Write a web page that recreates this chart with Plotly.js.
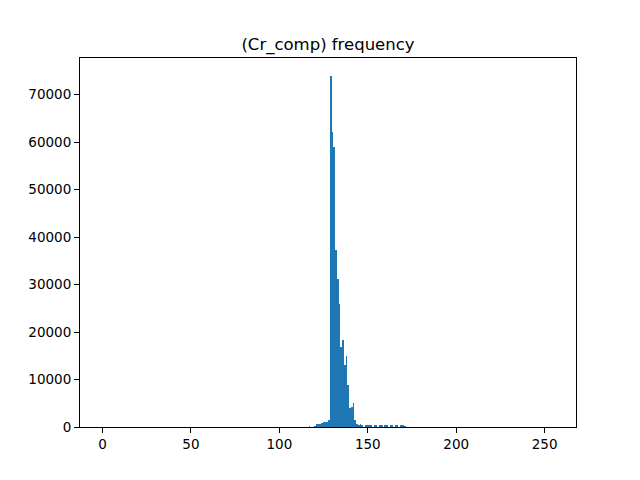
<!DOCTYPE html>
<html>
<head>
<meta charset="utf-8">
<script src="https://cdn.plot.ly/plotly-3.0.1.min.js"></script>
<style>html,body{margin:0;padding:0;background:#fff;}#chart{width:640px;height:480px;}</style>
</head>
<body>
<div id="chart"></div>
<script>
// Histogram of Cr component: 256 bins over [0, 255]
const binCount = 256;
const valueMin = 0;
const valueMax = 255;
const firstBin = 117;
const counts = [
  200, 0, 0, 150, 570, 700, 700, 840, 1120, 1120, 980, 1470,
  74000, 62200, 58900, 37200, 31100, 25900, 16900, 18300, 13000, 14900,
  8800, 4000, 4200, 5000, 1470, 630, 420, 630, 420, 0,
  400, 420, 400, 380, 0, 420, 400, 0, 380, 400, 0, 380, 420, 0,
  400, 420, 0, 380, 400, 0, 350, 380, 300, 0
];
const yTicks = [0, 10000, 20000, 30000, 40000, 50000, 60000, 70000];
const xTicks = [0, 50, 100, 150, 200, 250];

const binWidth = (valueMax - valueMin) / binCount;
const xs = counts.map((_, i) => valueMin + (firstBin + i + 0.5) * binWidth);
const maxCount = Math.max(...counts);
const span = valueMax - valueMin;

const trace = {
  type: 'bar',
  x: xs,
  y: counts,
  width: binWidth,
  marker: {color: '#1f77b4', line: {width: 0}},
  hoverinfo: 'x+y'
};

const axisCommon = {
  showgrid: false,
  zeroline: false,
  showline: true,
  mirror: true,
  linecolor: '#000',
  linewidth: 1,
  ticks: 'outside',
  ticklen: 5,
  tickwidth: 1,
  tickcolor: '#000',
  tickfont: {family: 'DejaVu Sans', size: 13.5, color: '#000'}
};

const layout = {
  width: 640,
  height: 480,
  paper_bgcolor: '#fff',
  plot_bgcolor: '#fff',
  margin: {l: 80, r: 64, t: 58, b: 53},
  showlegend: false,
  bargap: 0,
  title: {
    text: '(Cr_comp) frequency',
    font: {family: 'DejaVu Sans', size: 16.5, color: '#000'},
    x: 0.5, xanchor: 'center', xref: 'paper',
    y: 1 - 44 / 480, yanchor: 'middle', yref: 'container'
  },
  xaxis: Object.assign({}, axisCommon, {
    range: [valueMin - 0.05 * span, valueMax + 0.05 * span],
    tickvals: xTicks,
    ticktext: xTicks.map(String)
  }),
  yaxis: Object.assign({}, axisCommon, {
    range: [0, maxCount * 1.05],
    tickvals: yTicks,
    ticktext: yTicks.map(String)
  })
};

Plotly.newPlot('chart', [trace], layout, {displayModeBar: false, staticPlot: true});
</script>
</body>
</html>
